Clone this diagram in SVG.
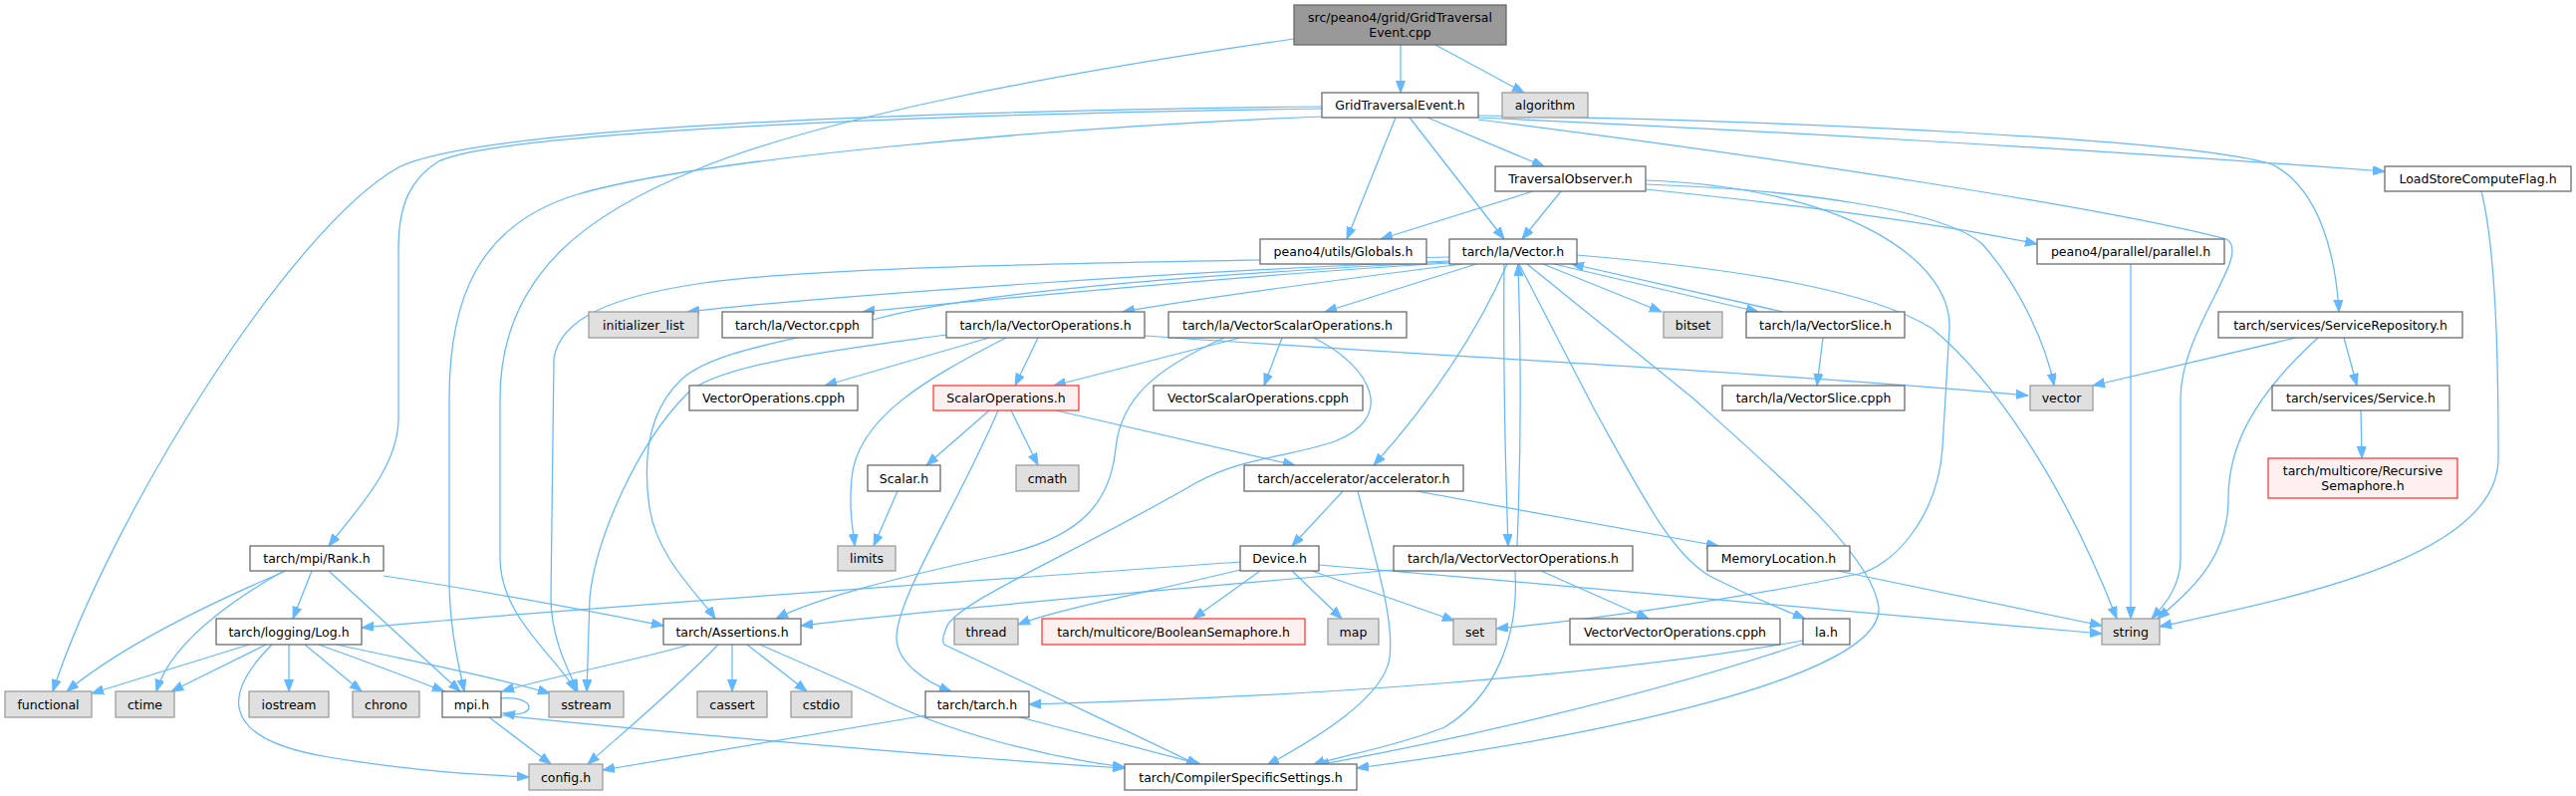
<svg xmlns="http://www.w3.org/2000/svg" width="2586" height="799" viewBox="0 0 2586 799">
<style>
text{font-family:"DejaVu Sans","Liberation Sans",sans-serif;font-size:12.5px;text-anchor:middle;fill:#000}
.n rect{fill:#fff;stroke:#666;stroke-width:1.25}
.g rect{fill:#e0e0e0;stroke:#999;stroke-width:1.25}
.r rect{fill:#fff0f0;stroke:#f33;stroke-width:1.25}
.rt rect{fill:#999;stroke:#666;stroke-width:1.25}
#edges path{fill:none;stroke:#63b8ff;stroke-width:1.25;marker-end:url(#a)}
</style>
<defs>
<marker id="a" markerWidth="13" markerHeight="10" refX="12" refY="4.5" orient="auto" markerUnits="userSpaceOnUse"><path d="M0,0 L12,4.5 L0,9 z" fill="#63b8ff" stroke="#63b8ff" stroke-width="1"/></marker>
</defs>
<rect width="2586" height="799" fill="#fff"/>
<g id="edges">
<path d="M1406,45 L1406,93"/>
<path d="M1441,45 L1530,93"/>
<path d="M1299,39 C1050,75 820,120 700,170 C600,210 502,270 502,400 L502,560 C502,620 560,660 578,694"/>
<path d="M1327,107 C900,112 480,128 400,168 C290,230 110,520 53,694"/>
<path d="M1327,109 C950,114 500,132 440,162 C412,180 400,205 400,250 L400,420 C400,470 355,515 330,548"/>
<path d="M1327,117 C1050,128 700,160 580,195 C480,225 451,300 451,400 L451,580 C451,630 460,665 466,694"/>
<path d="M1401,118 L1352,240"/>
<path d="M1415,118 L1510,240"/>
<path d="M1433,118 L1550,167"/>
<path d="M1484,118 C1750,130 2100,150 2394,172"/>
<path d="M1484,116 C1800,121 2200,140 2281,165 C2330,190 2345,260 2348,313"/>
<path d="M1484,120 C1800,160 2120,210 2235,240 C2262,255 2189,330 2189,400 L2189,560 C2189,590 2172,608 2160,621"/>
<path d="M1539,192 L1386,240"/>
<path d="M1567,192 L1528,240"/>
<path d="M1652,190 C1800,205 1950,225 2045,245"/>
<path d="M1652,185 C1800,190 1950,210 1990,245 C2030,290 2055,350 2062,387"/>
<path d="M1652,181 C1850,188 1960,260 1957,330 L1950,450 C1945,520 1900,568 1866,576 C1750,600 1600,622 1502,631"/>
<path d="M1455,262 C1200,272 850,295 690,313"/>
<path d="M1455,264 C1250,276 1000,300 866,313"/>
<path d="M1468,265 C1350,280 1200,300 1127,313"/>
<path d="M1482,265 L1330,313"/>
<path d="M1549,265 L1668,313"/>
<path d="M1560,265 L1765,313"/>
<path d="M1790,313 L1578,265"/>
<path d="M1455,263 C1150,278 960,298 880,320 C800,342 720,350 685,380 C650,412 645,460 652,510 C660,560 700,595 718,621"/>
<path d="M1455,258 C1200,262 820,266 700,285 C620,297 562,318 556,360 L553,600 C553,640 570,672 580,694"/>
<path d="M1583,256 C1750,270 1880,292 1940,330 C2000,380 2070,480 2125,621"/>
<path d="M1513,265 C1480,340 1430,410 1379,467"/>
<path d="M1510,265 C1509,350 1511,460 1514,548"/>
<path d="M1523,548 C1527,450 1527,350 1524,265"/>
<path d="M1525,265 L1600,410 C1650,500 1680,560 1720,580 C1760,600 1790,612 1812,621"/>
<path d="M1533,265 L1700,400 C1800,490 1880,560 1886,610 C1890,680 1600,740 1362,771"/>
<path d="M1830,339 L1824,387"/>
<path d="M993,339 L828,387"/>
<path d="M1042,339 L1019,387"/>
<path d="M1010,339 C930,380 860,420 855,480 C852,510 856,530 858,548"/>
<path d="M950,336 C850,350 720,365 690,395 C640,445 598,540 592,600 L589,694"/>
<path d="M1149,337 C1400,355 1800,375 2036,397"/>
<path d="M1245,339 L1058,387"/>
<path d="M1287,339 L1269,387"/>
<path d="M1229,339 C1160,370 1125,400 1120,450 C1115,500 1090,540 1000,558 C900,580 820,600 779,621"/>
<path d="M1319,339 C1380,370 1400,420 1340,443 C1290,460 1250,458 1200,485 C1080,555 958,605 950,630 C946,640 946,645 948,647 C1000,672 1120,728 1203,768"/>
<path d="M993,412 L930,467"/>
<path d="M1015,412 L1042,467"/>
<path d="M1002,412 C960,510 900,600 900,640 C900,665 930,685 955,694"/>
<path d="M1060,412 L1300,467"/>
<path d="M901,493 L877,548"/>
<path d="M1348,493 L1297,548"/>
<path d="M1422,493 L1725,548"/>
<path d="M1363,493 C1380,560 1400,620 1395,660 C1390,700 1320,742 1272,768"/>
<path d="M1245,564 C1000,582 600,608 363,630"/>
<path d="M1245,572 C1150,595 1060,612 1022,627"/>
<path d="M1265,573 L1198,621"/>
<path d="M1297,573 L1347,621"/>
<path d="M1317,573 L1460,623"/>
<path d="M1324,567 C1600,590 1900,618 2110,636"/>
<path d="M1399,572 C1200,590 950,610 804,628"/>
<path d="M1547,573 L1655,621"/>
<path d="M1521,573 C1525,640 1500,700 1450,730 C1400,750 1340,760 1318,768"/>
<path d="M1845,573 C1950,595 2050,615 2110,628"/>
<path d="M1810,643 C1600,680 1300,700 1033,707"/>
<path d="M1810,646 C1650,700 1450,745 1322,768"/>
<path d="M692,647 C650,660 550,680 504,694"/>
<path d="M735,647 L735,694"/>
<path d="M750,647 L810,694"/>
<path d="M721,647 C680,690 620,740 590,767"/>
<path d="M763,647 C810,668 850,684 880,699 C950,735 1050,760 1129,770"/>
<path d="M930,718 C800,740 680,760 605,773"/>
<path d="M1024,720 L1205,767"/>
<path d="M287,573 C200,610 120,650 67,694"/>
<path d="M283,574 C220,610 170,650 157,694"/>
<path d="M313,573 L294,621"/>
<path d="M330,573 L462,694"/>
<path d="M385,578 C500,595 600,615 666,628"/>
<path d="M250,647 L92,696"/>
<path d="M267,647 L172,694"/>
<path d="M290,647 L290,694"/>
<path d="M306,647 L363,694"/>
<path d="M320,647 C370,665 410,680 446,694"/>
<path d="M338,647 C420,665 500,680 552,696"/>
<path d="M273,647 C230,690 210,740 330,760 C420,775 490,778 531,780"/>
<path d="M503,701 C540,698 540,722 505,716"/>
<path d="M491,720 L553,767"/>
<path d="M503,718 C700,738 950,760 1129,771"/>
<path d="M2353,339 L2366,387"/>
<path d="M2305,339 L2101,387"/>
<path d="M2327,339 C2260,400 2237,450 2237,500 C2237,560 2200,592 2166,621"/>
<path d="M2370,412 L2371,460"/>
<path d="M2139,265 L2139,621"/>
<path d="M2491,192 C2508,260 2508,400 2508,460 C2508,560 2300,600 2168,629"/>
</g>
<g id="n0" class="rt"><rect x="1299" y="5" width="213" height="40"/><text x="1405.5" y="21.5">src/peano4/grid/GridTraversal</text><text x="1405.5" y="36.5">Event.cpp</text></g>
<g id="n1" class="n"><rect x="1327" y="93" width="157" height="25"/><text x="1405.5" y="110">GridTraversalEvent.h</text></g>
<g id="n2" class="g"><rect x="1508" y="93" width="86" height="25"/><text x="1551" y="110">algorithm</text></g>
<g id="n3" class="n"><rect x="1501" y="167" width="151" height="25"/><text x="1576.5" y="184">TraversalObserver.h</text></g>
<g id="n4" class="n"><rect x="2394" y="167" width="187" height="25"/><text x="2487.5" y="184">LoadStoreComputeFlag.h</text></g>
<g id="n5" class="n"><rect x="1265" y="240" width="167" height="25"/><text x="1348.5" y="257">peano4/utils/Globals.h</text></g>
<g id="n6" class="n"><rect x="1455" y="240" width="128" height="25"/><text x="1519" y="257">tarch/la/Vector.h</text></g>
<g id="n7" class="n"><rect x="2045" y="240" width="188" height="25"/><text x="2139" y="257">peano4/parallel/parallel.h</text></g>
<g id="n8" class="g"><rect x="591" y="313" width="110" height="26"/><text x="646" y="330.5">initializer_list</text></g>
<g id="n9" class="n"><rect x="725" y="313" width="151" height="26"/><text x="800.5" y="330.5">tarch/la/Vector.cpph</text></g>
<g id="n10" class="n"><rect x="950" y="313" width="199" height="26"/><text x="1049.5" y="330.5">tarch/la/VectorOperations.h</text></g>
<g id="n11" class="n"><rect x="1173" y="313" width="239" height="26"/><text x="1292.5" y="330.5">tarch/la/VectorScalarOperations.h</text></g>
<g id="n12" class="g"><rect x="1670" y="313" width="59" height="26"/><text x="1699.5" y="330.5">bitset</text></g>
<g id="n13" class="n"><rect x="1753" y="313" width="159" height="26"/><text x="1832.5" y="330.5">tarch/la/VectorSlice.h</text></g>
<g id="n14" class="n"><rect x="2227" y="313" width="245" height="26"/><text x="2349.5" y="330.5">tarch/services/ServiceRepository.h</text></g>
<g id="n15" class="n"><rect x="692" y="387" width="169" height="25"/><text x="776.5" y="404">VectorOperations.cpph</text></g>
<g id="n16" class="r"><rect x="937" y="387" width="146" height="25"/><text x="1010" y="404">ScalarOperations.h</text></g>
<g id="n17" class="n"><rect x="1158" y="387" width="210" height="25"/><text x="1263" y="404">VectorScalarOperations.cpph</text></g>
<g id="n18" class="n"><rect x="1729" y="387" width="183" height="25"/><text x="1820.5" y="404">tarch/la/VectorSlice.cpph</text></g>
<g id="n19" class="g"><rect x="2038" y="387" width="63" height="25"/><text x="2069.5" y="404">vector</text></g>
<g id="n20" class="n"><rect x="2281" y="387" width="178" height="25"/><text x="2370" y="404">tarch/services/Service.h</text></g>
<g id="n21" class="n"><rect x="871" y="467" width="73" height="26"/><text x="907.5" y="484.5">Scalar.h</text></g>
<g id="n22" class="g"><rect x="1020" y="467" width="63" height="26"/><text x="1051.5" y="484.5">cmath</text></g>
<g id="n23" class="n"><rect x="1249" y="467" width="220" height="26"/><text x="1359" y="484.5">tarch/accelerator/accelerator.h</text></g>
<g id="n24" class="r"><rect x="2277" y="460" width="190" height="40"/><text x="2372" y="476.5">tarch/multicore/Recursive</text><text x="2372" y="491.5">Semaphore.h</text></g>
<g id="n25" class="n"><rect x="251" y="548" width="134" height="25"/><text x="318" y="565">tarch/mpi/Rank.h</text></g>
<g id="n26" class="g"><rect x="841" y="548" width="58" height="25"/><text x="870" y="565">limits</text></g>
<g id="n27" class="n"><rect x="1245" y="548" width="79" height="25"/><text x="1284.5" y="565">Device.h</text></g>
<g id="n28" class="n"><rect x="1399" y="548" width="240" height="25"/><text x="1519" y="565">tarch/la/VectorVectorOperations.h</text></g>
<g id="n29" class="n"><rect x="1714" y="548" width="143" height="25"/><text x="1785.5" y="565">MemoryLocation.h</text></g>
<g id="n30" class="n"><rect x="217" y="621" width="146" height="26"/><text x="290" y="638.5">tarch/logging/Log.h</text></g>
<g id="n31" class="n"><rect x="666" y="621" width="138" height="26"/><text x="735" y="638.5">tarch/Assertions.h</text></g>
<g id="n32" class="g"><rect x="958" y="621" width="64" height="26"/><text x="990" y="638.5">thread</text></g>
<g id="n33" class="r"><rect x="1046" y="621" width="264" height="26"/><text x="1178" y="638.5">tarch/multicore/BooleanSemaphore.h</text></g>
<g id="n34" class="g"><rect x="1333" y="621" width="51" height="26"/><text x="1358.5" y="638.5">map</text></g>
<g id="n35" class="g"><rect x="1459" y="621" width="43" height="26"/><text x="1480.5" y="638.5">set</text></g>
<g id="n36" class="n"><rect x="1576" y="621" width="211" height="26"/><text x="1681.5" y="638.5">VectorVectorOperations.cpph</text></g>
<g id="n37" class="n"><rect x="1810" y="621" width="47" height="26"/><text x="1833.5" y="638.5">la.h</text></g>
<g id="n38" class="g"><rect x="2110" y="621" width="58" height="26"/><text x="2139" y="638.5">string</text></g>
<g id="n39" class="g"><rect x="5" y="694" width="87" height="26"/><text x="48.5" y="711.5">functional</text></g>
<g id="n40" class="g"><rect x="116" y="694" width="59" height="26"/><text x="145.5" y="711.5">ctime</text></g>
<g id="n41" class="g"><rect x="250" y="694" width="80" height="26"/><text x="290" y="711.5">iostream</text></g>
<g id="n42" class="g"><rect x="354" y="694" width="67" height="26"/><text x="387.5" y="711.5">chrono</text></g>
<g id="n43" class="n"><rect x="444" y="694" width="59" height="26"/><text x="473.5" y="711.5">mpi.h</text></g>
<g id="n44" class="g"><rect x="551" y="694" width="75" height="26"/><text x="588.5" y="711.5">sstream</text></g>
<g id="n45" class="g"><rect x="700" y="694" width="70" height="26"/><text x="735" y="711.5">cassert</text></g>
<g id="n46" class="g"><rect x="794" y="694" width="61" height="26"/><text x="824.5" y="711.5">cstdio</text></g>
<g id="n47" class="n"><rect x="929" y="694" width="104" height="26"/><text x="981" y="711.5">tarch/tarch.h</text></g>
<g id="n48" class="g"><rect x="531" y="767" width="74" height="26"/><text x="568" y="785">config.h</text></g>
<g id="n49" class="n"><rect x="1129" y="767" width="233" height="26"/><text x="1245.5" y="785">tarch/CompilerSpecificSettings.h</text></g>
</svg>
